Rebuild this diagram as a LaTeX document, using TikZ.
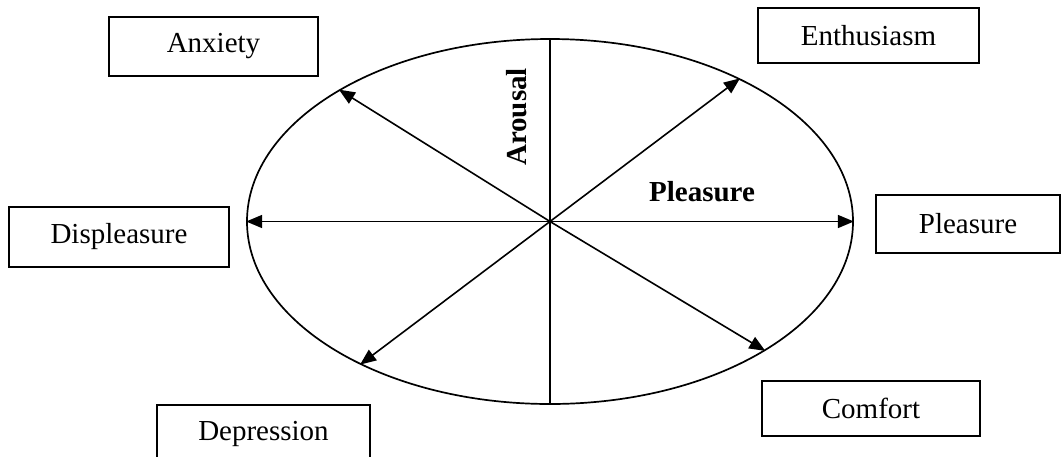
\documentclass[tikz,border=0pt]{standalone}
\usepackage{fontspec}
\setmainfont{Liberation Serif}
\usetikzlibrary{arrows.meta,shapes.geometric}
\begin{document}
\begin{tikzpicture}[x=1pt,y=-1pt,
  lbl/.style={draw,line width=1.7pt,inner sep=0pt,font=\fontsize{29}{34}\selectfont},
  ax/.style={line width=1.6pt},
  arr/.style={line width=1.6pt,-{Triangle[length=16pt,width=13pt]}},
  bold/.style={inner sep=0pt,font=\fontsize{29}{34}\selectfont\bfseries}]
\useasboundingbox (0,0) rectangle (1061,456);
\node[draw,ellipse,line width=1.7pt,inner sep=0pt,minimum width=606pt,minimum height=365pt] (E) at (550,221.5) {};
\coordinate (C) at (550,221.5);
\draw[ax] (E.north) -- (E.south);
\draw[arr] (C) -- (E.west);
\draw[arr] (C) -- (E.east);
\draw[arr] (C) -- (E.148.4);
\draw[arr] (C) -- (E.37.7);
\draw[arr] (C) -- (E.217.7);
\draw[arr] (C) -- (E.329.6);
\node[lbl,minimum width=209pt,minimum height=59pt] (anx) at (213.5,46.5) {Anxiety};
\node[lbl,minimum width=221pt,minimum height=55pt] (ent) at (868.5,35.5) {Enthusiasm};
\node[lbl,minimum width=220pt,minimum height=60pt] (dis) at (119,237) {Displeasure};
\node[lbl,minimum width=184pt,minimum height=58pt] (ple) at (968,224) {Pleasure};
\node[lbl,minimum width=213pt,minimum height=58pt] (dep) at (263.5,434) {Depression};
\node[lbl,minimum width=218pt,minimum height=55pt] (com) at (871,408.5) {Comfort};
\node[bold,rotate=90] (aro) at (517,117) {Arousal};
\node[bold] (plb) at (702,192) {Pleasure};
\end{tikzpicture}
\end{document}
